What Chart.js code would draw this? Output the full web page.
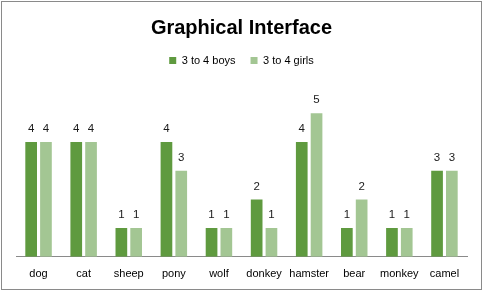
<!DOCTYPE html>
<html>
<head>
<meta charset="utf-8">
<script src="https://cdn.jsdelivr.net/npm/chart.js@4"></script>
<style>
    body { margin: 0; background: #fff; }
    #frame { position: absolute; left: 1px; top: 1px; width: 479px; height: 287px; border: 1px solid #8a8a8a; }
    canvas { display: block; }
</style>
</head>
<body>
<div id="frame"><canvas id="chart" width="479" height="287"></canvas></div>
<script>
const animals = ['dog', 'cat', 'sheep', 'pony', 'wolf', 'donkey', 'hamster', 'bear', 'monkey', 'camel'];
const boys = [4, 4, 1, 4, 1, 2, 4, 1, 1, 3];
const girls = [4, 4, 1, 3, 1, 1, 5, 2, 1, 3];

const FONT = '"Liberation Sans", Arial, sans-serif';

// puts the value above every bar
const valueLabels = {
    id: 'valueLabels',
    afterDatasetsDraw(chart) {
        const ctx = chart.ctx;
        ctx.save();
        ctx.font = '11.5px ' + FONT;
        ctx.fillStyle = '#1a1a1a';
        ctx.textAlign = 'center';
        ctx.textBaseline = 'middle';
        chart.data.datasets.forEach((ds, i) => {
            chart.getDatasetMeta(i).data.forEach((bar, j) => {
                ctx.fillText(ds.data[j], bar.x, bar.y - 13);
            });
        });
        ctx.restore();
    }
};

new Chart(document.getElementById('chart'), {
    type: 'bar',
    data: {
        labels: animals,
        datasets: [
            { label: '3 to 4 boys', data: boys, backgroundColor: '#5f9a3f' },
            { label: '3 to 4 girls', data: girls, backgroundColor: '#a3c693' }
        ]
    },
    options: {
        responsive: false,
        animation: false,
        categoryPercentage: 0.656,
        barPercentage: 0.79,
        layout: { padding: { left: 14, right: 14, top: 4, bottom: 5 } },
        plugins: {
            title: {
                display: true,
                text: 'Graphical Interface',
                color: '#000',
                font: { family: FONT, size: 20, weight: 'bold' },
                padding: { top: 10, bottom: 0 }
            },
            legend: {
                position: 'top',
                labels: {
                    boxWidth: 7,
                    boxHeight: 7,
                    padding: 15,
                    color: '#000',
                    font: { family: FONT, size: 11 }
                }
            },
            tooltip: { enabled: false }
        },
        scales: {
            x: {
                grid: { display: false },
                border: { color: '#8a8a8a' },
                ticks: {
                    color: '#000',
                    font: { family: FONT, size: 11 },
                    padding: 3,
                    maxRotation: 0,
                    autoSkip: false
                }
            },
            y: {
                display: false,
                min: 0,
                max: 6.3
            }
        }
    },
    plugins: [valueLabels]
});
</script>
</body>
</html>
